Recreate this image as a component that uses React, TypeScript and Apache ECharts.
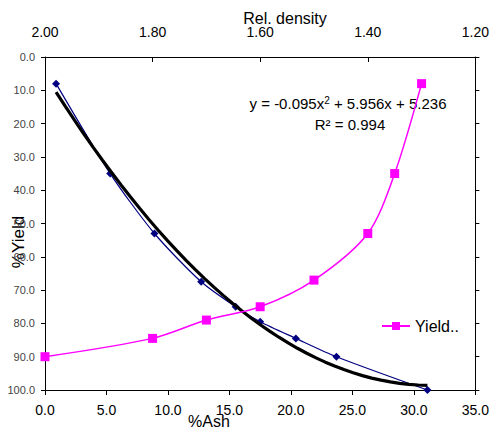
import React, { useEffect, useRef } from "react";
import * as echarts from "echarts";

// %Ash vs %Yield (dark blue diamonds, bottom axis)
const ashValues = [0.9, 5.3, 8.9, 12.7, 15.5, 17.5, 20.4, 23.7, 31.1];
const ashYield = [8.0, 35.0, 53.0, 67.5, 75.0, 79.5, 84.5, 90.0, 100.0];

// Rel. density vs %Yield (magenta squares, top axis)
const densityValues = [2.0, 1.8, 1.7, 1.6, 1.5, 1.4, 1.35, 1.3];
const densityYield = [90.0, 84.5, 79.0, 75.0, 67.0, 53.0, 35.0, 8.0];

// Polynomial trendline coefficients shown on the chart: y = a x^2 + b x + c
const trendCoeffs = [-0.095, 5.956, 5.236];
const trendRange = [0.9, 31.1];

const bottomTicks = { min: 0, max: 35, interval: 5 };
const topTicks = { min: 1.2, max: 2.0, interval: 0.2 };
const yTicks = { min: 0, max: 100, interval: 10 };

export default function App() {
  const ref = useRef<HTMLDivElement>(null);
  useEffect(() => {
    if (!ref.current) return;
    const chart = echarts.init(ref.current, null, { renderer: "svg" });
    const trend: number[][] = [];
    const n = 40;
    for (let i = 0; i <= n; i++) {
      const x = trendRange[0] + ((trendRange[1] - trendRange[0]) * i) / n;
      trend.push([x, trendCoeffs[0] * x * x + trendCoeffs[1] * x + trendCoeffs[2]]);
    }
    const font = "'Liberation Sans', Arial, sans-serif";
    chart.setOption({
      animation: false,
      backgroundColor: "#fff",
      grid: { left: 45, right: 13, top: 57, bottom: 41, containLabel: false },
      xAxis: [
        {
          type: "value",
          position: "bottom",
          min: bottomTicks.min,
          max: bottomTicks.max,
          interval: bottomTicks.interval,
          axisLine: { onZero: false, lineStyle: { color: "#000", width: 1 } },
          axisTick: { show: true, inside: false, length: 5, lineStyle: { color: "#000" } },
          axisLabel: {
            color: "#000",
            fontFamily: font,
            fontSize: 14,
            margin: 13,
            formatter: (v: number) => v.toFixed(1),
          },
          splitLine: { show: false },
        },
        {
          type: "value",
          position: "top",
          inverse: true,
          min: topTicks.min,
          max: topTicks.max,
          interval: topTicks.interval,
          axisLine: { onZero: false, lineStyle: { color: "#000", width: 1 } },
          axisTick: { show: true, inside: true, length: 5, lineStyle: { color: "#000" } },
          axisLabel: {
            color: "#000",
            fontFamily: font,
            fontSize: 14,
            margin: 18,
            formatter: (v: number) => v.toFixed(2),
          },
          splitLine: { show: false },
        },
      ],
      yAxis: [
        {
          type: "value",
          position: "left",
          inverse: true,
          min: yTicks.min,
          max: yTicks.max,
          interval: yTicks.interval,
          axisLine: { show: true, onZero: false, lineStyle: { color: "#000", width: 1 } },
          axisTick: { show: true, inside: false, length: 4, lineStyle: { color: "#000" } },
          axisLabel: {
            color: "#444",
            fontFamily: font,
            fontSize: 11,
            margin: 10,
            formatter: (v: number) => v.toFixed(1),
          },
          splitLine: { show: false },
        },
        {
          type: "value",
          position: "right",
          inverse: true,
          min: yTicks.min,
          max: yTicks.max,
          interval: yTicks.interval,
          axisLine: { show: true, onZero: false, lineStyle: { color: "#000", width: 1 } },
          axisTick: { show: true, inside: false, length: 4, lineStyle: { color: "#000" } },
          axisLabel: { show: false },
          splitLine: { show: false },
        },
      ],
      legend: {
        show: true,
        data: ["Yield.."],
        left: 376,
        top: 313,
        itemWidth: 28,
        itemHeight: 10,
        textStyle: { color: "#000", fontFamily: font, fontSize: 16 },
        itemGap: 4,
      },
      series: [
        {
          name: "Ash",
          type: "line",
          xAxisIndex: 0,
          yAxisIndex: 0,
          data: ashValues.map((x, i) => [x, ashYield[i]]),
          smooth: 0.25,
          symbol: "diamond",
          symbolSize: 8,
          itemStyle: { color: "#000080" },
          lineStyle: { color: "#000080", width: 1.2 },
          z: 3,
        },
        {
          name: "Trend",
          type: "line",
          xAxisIndex: 0,
          yAxisIndex: 0,
          data: trend,
          smooth: false,
          showSymbol: false,
          symbol: "none",
          lineStyle: { color: "#000", width: 3.2 },
          z: 4,
        },
        {
          name: "Yield..",
          type: "line",
          xAxisIndex: 1,
          yAxisIndex: 0,
          data: densityValues.map((x, i) => [x, densityYield[i]]),
          smooth: 0.3,
          symbol: "rect",
          symbolSize: 9,
          itemStyle: { color: "#FF00FF" },
          lineStyle: { color: "#FF00FF", width: 1.5 },
          z: 5,
        },
      ],
      graphic: [
        {
          type: "text",
          x: 285,
          y: 18,
          style: {
            text: "Rel. density",
            font: `16px ${font}`,
            fill: "#000",
            align: "center",
            verticalAlign: "middle",
          },
        },
        {
          type: "text",
          x: 209,
          y: 421,
          style: {
            text: "%Ash",
            font: `16px ${font}`,
            fill: "#000",
            align: "center",
            verticalAlign: "middle",
          },
        },
        {
          type: "text",
          x: 18,
          y: 242,
          rotation: Math.PI / 2,
          style: {
            text: "%Yield",
            font: `17px ${font}`,
            fill: "#000",
            align: "center",
            verticalAlign: "middle",
          },
        },
        {
          type: "text",
          x: 348,
          y: 103,
          style: {
            rich: {
              n: { font: `15px ${font}`, fill: "#000" },
              s: { font: `10px ${font}`, fill: "#000", verticalAlign: "top", padding: [0, 0, 6, 0] },
            },
            text: "{n|y = -0.095x}{s|2}{n| + 5.956x + 5.236}",
            align: "center",
            verticalAlign: "middle",
          },
        },
        {
          type: "text",
          x: 350,
          y: 124,
          style: {
            text: "R² = 0.994",
            font: `15px ${font}`,
            fill: "#000",
            align: "center",
            verticalAlign: "middle",
          },
        },
      ],
    });
    return () => chart.dispose();
  }, []);
  return <div ref={ref} style={{ width: 492, height: 431, position: "absolute", left: 0, top: 0 }} />;
}
